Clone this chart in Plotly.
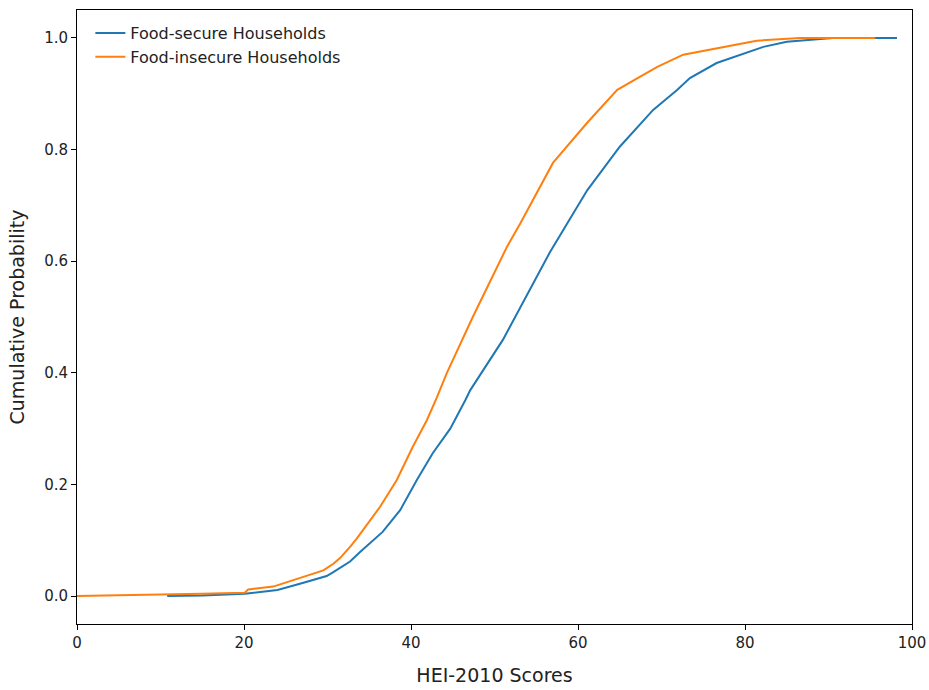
import plotly.graph_objects as go

secure_x = [10.8, 15.0, 20.1, 24.0, 26.7, 29.9, 30.7, 32.7, 33.9, 36.6, 38.7, 40.7, 42.6, 43.8, 44.7, 46.5, 47.1,
            51.0, 55.1, 56.6, 58.2, 60.6, 61.1, 65.0, 69.0, 71.9, 73.4, 76.6, 79.4, 82.2, 85.0, 88.6, 90.5, 98.2]
secure_y = [0.0, 0.001, 0.004, 0.011, 0.022, 0.036, 0.043, 0.062, 0.079, 0.115, 0.154, 0.208, 0.256, 0.280, 0.300, 0.351, 0.369,
            0.459, 0.572, 0.615, 0.655, 0.714, 0.727, 0.805, 0.871, 0.907, 0.928, 0.955, 0.970, 0.984, 0.993, 0.998, 1.0, 1.0]

insecure_x = [0.0, 10.0, 15.0, 20.1, 20.5, 23.5, 26.7, 29.5, 30.7, 31.5, 32.7, 33.5, 36.3, 38.3, 40.2, 41.9, 43.1,
              44.3, 47.4, 51.5, 53.1, 54.6, 57.0, 61.1, 64.7, 67.4, 69.5, 72.6, 77.8, 81.4, 86.6, 95.6]
insecure_y = [0.0, 0.002, 0.004, 0.006, 0.012, 0.017, 0.033, 0.046, 0.058, 0.068, 0.088, 0.103, 0.160, 0.208, 0.267, 0.315, 0.356,
              0.400, 0.500, 0.626, 0.668, 0.710, 0.776, 0.848, 0.907, 0.930, 0.948, 0.970, 0.984, 0.995, 1.0, 1.0]

x_ticks = [0, 20, 40, 60, 80, 100]
y_ticks = [0.0, 0.2, 0.4, 0.6, 0.8, 1.0]

fig = go.Figure()
fig.add_trace(go.Scatter(x=secure_x, y=secure_y, mode="lines", name="Food-secure Households",
                         line=dict(color="#1f77b4", width=2)))
fig.add_trace(go.Scatter(x=insecure_x, y=insecure_y, mode="lines", name="Food-insecure Households",
                         line=dict(color="#ff7f0e", width=2)))

axis_common = dict(showline=True, linecolor="black", linewidth=1, mirror=True, ticks="outside",
                   ticklen=5, tickcolor="black", showgrid=False, zeroline=False, automargin=False,
                   tickfont=dict(family="DejaVu Sans", size=15, color="#222"))

fig.update_layout(
    width=929, height=690,
    margin=dict(l=77, r=17, t=10, b=66),
    paper_bgcolor="white", plot_bgcolor="white",
    font=dict(family="DejaVu Sans", color="#222"),
    xaxis=dict(range=[0, 100], tickvals=x_ticks,
               title=dict(text="HEI-2010 Scores", font=dict(size=19), standoff=17), **axis_common),
    yaxis=dict(range=[-0.05, 1.05], tickvals=y_ticks, tickformat=".1f",
               title=dict(text="Cumulative Probability", font=dict(size=19), standoff=14), **axis_common),
    legend=dict(x=0.016, y=0.99, xanchor="left", yanchor="top", bgcolor="rgba(0,0,0,0)",
                font=dict(size=16, family="DejaVu Sans"), tracegroupgap=0),
    showlegend=True,
)

fig.write_html("out.html", config={"displayModeBar": False},
               post_script="document.body.style.margin='0';document.body.style.overflow='hidden';")
